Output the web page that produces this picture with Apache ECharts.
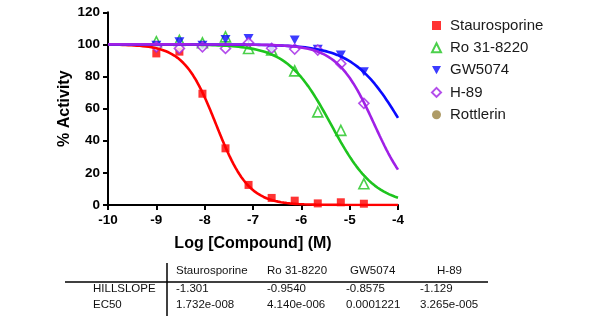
<!DOCTYPE html>
<html>
<head>
<meta charset="utf-8">
<style>
  html, body { margin: 0; padding: 0; background: #fff; }
  #chart { width: 600px; height: 323px; }
</style>
<script src="https://cdn.jsdelivr.net/npm/echarts@6/dist/echarts.min.js"></script>
</head>
<body>
<div id="chart"></div>
<script>
// Log10 molar concentrations (3-fold dilution series)
const doses = [-9, -8.523, -8.046, -7.569, -7.092, -6.614, -6.137, -5.66, -5.183, -4.706];

// % activity per compound at each dose
const staurosporine = [94.4, 95.5, 69.3, 35.3, 12.5, 4.4, 2.7, 1.0, 1.7, 0.8];
const ro318220 = [101.7, 102.5, 101.0, 104.7, 97.5, 96.5, 83.5, 58.0, 46.5, 13.2];
const gw5074 = [99.5, 101.6, 99.5, 103.0, 103.7, 97.5, 102.7, 97.0, 93.4, 83.0];
const h89 = [98.5, 97.5, 98.5, 97.5, 101.0, 97.6, 97.1, 96.5, 88.0, 63.3];
const rottlerin = [];

// Fit results (four-parameter logistic)
const compounds = ['Staurosporine', 'Ro 31-8220', 'GW5074', 'H-89'];
const hillLabels = ['-1.301', '-0.9540', '-0.8575', '-1.129'];
const ec50Labels = ['1.732e-008', '4.140e-006', '0.0001221', '3.265e-005'];
const fitTop = [100, 100, 100, 100];
const fitBottom = [0, 0, 0, 0];

// Axis ticks
const xTicks = [-10, -9, -8, -7, -6, -5, -4];
const yTicks = [0, 20, 40, 60, 80, 100, 120];

const colors = {
  'Staurosporine': '#ff0000',
  'Ro 31-8220': '#1ec41e',
  'GW5074': '#0a0aff',
  'H-89': '#a020e6',
  'Rottlerin': '#9a8240'
};

function fitCurve(i) {
  const hill = parseFloat(hillLabels[i]);
  const logEc50 = Math.log10(parseFloat(ec50Labels[i]));
  const pts = [];
  for (let k = 0; k <= 300; k++) {
    const x = xTicks[0] + k * (xTicks[xTicks.length - 1] - xTicks[0]) / 300;
    const y = fitBottom[i] + (fitTop[i] - fitBottom[i]) / (1 + Math.pow(10, (logEc50 - x) * hill));
    pts.push([x, y]);
  }
  return pts;
}

function pairs(values) {
  return doses.map((d, i) => [d, values[i]]);
}

const downTriangle = 'path://M0,0L10,0L5,9Z';
const pointSets = [
  { name: 'Staurosporine', values: staurosporine, symbol: 'rect', size: 8, hollow: false, icon: 'rect' },
  { name: 'Ro 31-8220', values: ro318220, symbol: 'triangle', size: 10, hollow: true, icon: 'triangle' },
  { name: 'GW5074', values: gw5074, symbol: downTriangle, size: [10, 9], hollow: false, icon: downTriangle },
  { name: 'H-89', values: h89, symbol: 'diamond', size: 10, hollow: true, icon: 'diamond' },
  { name: 'Rottlerin', values: rottlerin, symbol: 'circle', size: 8, hollow: false, icon: 'circle' }
];

const series = [];
pointSets.forEach(p => {
  series.push({
    name: p.name,
    type: 'scatter',
    z: 2,
    symbol: p.symbol,
    symbolSize: p.size,
    itemStyle: p.hollow
      ? { color: '#ffffff', borderColor: colors[p.name], borderWidth: 1.6 }
      : { color: colors[p.name] },
    data: p.values.length ? pairs(p.values) : []
  });
});
compounds.forEach((c, i) => {
  series.push({
    name: c + ' fit',
    type: 'line',
    z: 3,
    showSymbol: false,
    silent: true,
    lineStyle: { color: colors[c], width: 2.6 },
    data: fitCurve(i)
  });
});

// Results table below the plot
const font = '"Liberation Sans", Arial, sans-serif';
const colX = [176, 267, 346, 420];
const headerX = [176, 267, 350, 437];
const tableText = [];
compounds.forEach((c, i) => {
  tableText.push({ type: 'text', left: headerX[i], top: 265, style: { text: c, font: '11.5px ' + font, fill: '#111' } });
  tableText.push({ type: 'text', left: colX[i], top: 283, style: { text: hillLabels[i], font: '11.5px ' + font, fill: '#111' } });
  tableText.push({ type: 'text', left: colX[i], top: 299, style: { text: ec50Labels[i], font: '11.5px ' + font, fill: '#111' } });
});
tableText.push({ type: 'text', left: 93, top: 283, style: { text: 'HILLSLOPE', font: '11.5px ' + font, fill: '#111' } });
tableText.push({ type: 'text', left: 93, top: 299, style: { text: 'EC50', font: '11.5px ' + font, fill: '#111' } });
tableText.push({ type: 'line', shape: { x1: 65, y1: 282, x2: 488, y2: 282 }, style: { stroke: '#000', lineWidth: 1.4 } });
tableText.push({ type: 'line', shape: { x1: 167, y1: 263, x2: 167, y2: 316 }, style: { stroke: '#000', lineWidth: 1.5 } });

const chart = echarts.init(document.getElementById('chart'), null, { renderer: 'canvas' });
chart.setOption({
  animation: false,
  backgroundColor: '#ffffff',
  textStyle: { fontFamily: font },
  grid: { left: 108, top: 12.3, width: 290, height: 192.7, outerBoundsMode: 'none', containLabel: false },
  legend: {
    orient: 'vertical',
    left: 426,
    top: 13,
    itemWidth: 9,
    itemHeight: 9,
    itemGap: 7.3,
    selectedMode: false,
    data: pointSets.map(p => ({ name: p.name, icon: p.icon })),
    textStyle: { fontSize: 15, color: '#1a1a1a', fontFamily: font, padding: [0, 0, 0, 4] }
  },
  xAxis: {
    type: 'value',
    min: xTicks[0],
    max: xTicks[xTicks.length - 1],
    interval: 1,
    name: 'Log [Compound] (M)',
    nameLocation: 'middle',
    nameGap: 31,
    nameTextStyle: { fontSize: 16, fontWeight: 'bold', color: '#000', fontFamily: font },
    axisLine: { onZero: false, lineStyle: { color: '#000', width: 2 } },
    axisTick: { length: 5, lineStyle: { color: '#000', width: 2 } },
    axisLabel: { margin: 8, fontSize: 13.5, fontWeight: 'bold', color: '#000', fontFamily: font },
    splitLine: { show: false }
  },
  yAxis: {
    type: 'value',
    min: yTicks[0],
    max: yTicks[yTicks.length - 1],
    interval: 20,
    name: '% Activity',
    nameLocation: 'middle',
    nameGap: 35,
    nameTextStyle: { fontSize: 16, fontWeight: 'bold', color: '#000', fontFamily: font },
    axisLine: { show: true, onZero: false, lineStyle: { color: '#000', width: 2 } },
    axisTick: { show: true, length: 5, lineStyle: { color: '#000', width: 2 } },
    axisLabel: { margin: 8, fontSize: 13.5, fontWeight: 'bold', color: '#000', fontFamily: font },
    splitLine: { show: false }
  },
  graphic: tableText,
  series: series
});
</script>
</body>
</html>
